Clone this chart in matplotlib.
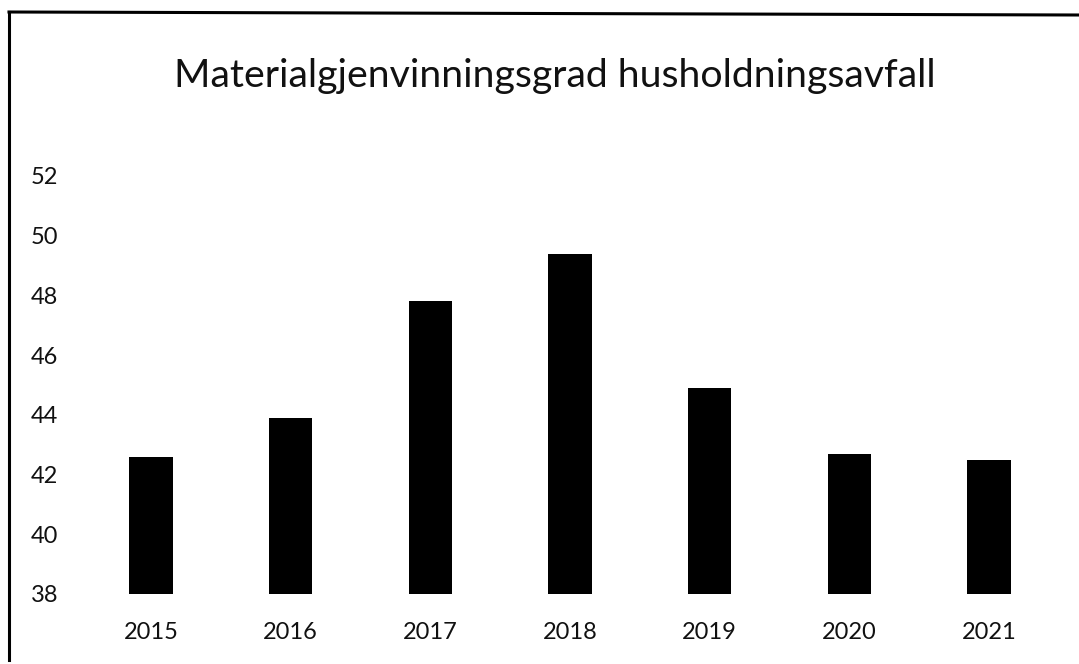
import matplotlib
matplotlib.use('Agg')
import matplotlib.pyplot as plt
from matplotlib.lines import Line2D

years = ['2015', '2016', '2017', '2018', '2019', '2020', '2021']
rates = [42.6, 43.9, 47.8, 49.4, 44.9, 42.7, 42.5]
y_ticks = [38, 40, 42, 44, 46, 48, 50, 52]
title = 'Materialgjenvinningsgrad husholdningsavfall'

plt.rcParams['font.family'] = ['Lato', 'DejaVu Sans']

W, H = 1079, 664
fig = plt.figure(figsize=(W / 100, H / 100), dpi=100)
fig.patch.set_facecolor('white')

# plot area in pixel terms: x from 81 to 1059, y from 176 (52) to 594 (38)
ax = fig.add_axes([81 / W, 1 - 594 / H, (1059 - 81) / W, (594 - 176) / H])
x = range(len(years))
ax.bar(x, [r - 38 for r in rates], bottom=38, width=0.31, color='black')

ax.set_xlim(-0.5, len(years) - 0.5)
ax.set_ylim(38, 52)
ax.set_xticks(list(x))
ax.set_xticklabels(years, fontsize=17)
ax.set_yticks(y_ticks)
ax.set_yticklabels([str(t) for t in y_ticks], fontsize=17)
ax.tick_params(axis='both', length=0, colors='#111111')
ax.tick_params(axis='x', pad=20)
for s in ax.spines.values():
    s.set_visible(False)
for lab in ax.get_yticklabels():
    lab.set_horizontalalignment('left')
ax.yaxis.set_tick_params(pad=36)

fig.text(555 / W, 1 - 76 / H, title, ha='center', va='center', fontsize=28.3, color='#111111')

# scanned frame: left and top edges
fig.add_artist(Line2D([9 / W, 9 / W], [1 - 12 / H, 1 - 660 / H], color='black', lw=2.2))
fig.add_artist(Line2D([9 / W, 1.0], [1 - 12 / H, 1 - 15 / H], color='black', lw=2.2))

fig.savefig('out.png', dpi=100, facecolor='white')
